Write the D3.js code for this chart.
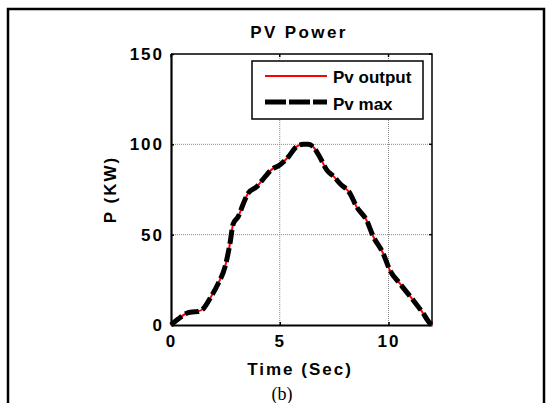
<!DOCTYPE html>
<html>
<head>
<meta charset="utf-8">
<script src="https://cdn.jsdelivr.net/npm/d3@7"></script>
<style>
  body { margin: 0; background: #fff; }
  svg text { font-family: "Liberation Sans", Arial, sans-serif; font-weight: bold; fill: #000; }
</style>
</head>
<body>
<div id="app"></div>
<script>
// PV power curve
const time = [0, 0.3, 0.72, 1.0, 1.2, 1.5, 1.8, 2.17, 2.48, 2.71, 2.86, 3.09, 3.32, 3.55, 3.94, 4.32, 4.62, 5.0, 5.39, 5.77, 6.08, 6.3, 6.5, 6.84, 7.15, 7.5, 7.76, 8.22, 8.53, 8.99, 9.3, 9.75, 10.06, 10.52, 11.13, 11.59, 11.9, 12]
const power = [0, 3, 6.5, 7.2, 7.4, 9.2, 14.8, 23, 32, 45, 56, 60, 67, 73, 76.5, 82, 86, 88.5, 93, 98.7, 100, 100, 99, 93, 86, 82, 78.4, 73, 65.5, 58, 49, 39.7, 30.4, 23, 13.8, 6.5, 1, 0]
const xTicks = [0, 5, 10]
const yTicks = [0, 50, 100, 150]
const seriesNames = ['Pv output', 'Pv max']

const data = time.map((t, i) => ({t: t, p: power[i]}))

const W = 552, H = 403
const margin = {left: 171, right: 120, top: 54, bottom: 78}

const svg = d3.select('#app').append('svg')
    .attr('width', W)
    .attr('height', H)

// outer figure frame
svg.append('path')
    .attr('d', `M8,${H} L8,9 L544,9 L544,${H}`)
    .attr('fill', 'none')
    .attr('stroke', '#000')
    .attr('stroke-width', 2.5)

const x = d3.scaleLinear().domain([0, 12]).range([margin.left, W - margin.right])
const y = d3.scaleLinear().domain([0, 150]).range([H - margin.bottom, margin.top])

// grid
const grid = svg.append('g')
grid.selectAll('line.gx')
    .data(xTicks.filter(d => d > 0))
    .enter().append('line')
    .attr('x1', d => x(d)).attr('x2', d => x(d))
    .attr('y1', y(0)).attr('y2', y(150))
    .attr('stroke', '#888').attr('stroke-width', 1).attr('stroke-dasharray', '1,1')
grid.selectAll('line.gy')
    .data(yTicks.filter(d => d > 0 && d < 150))
    .enter().append('line')
    .attr('x1', x(0)).attr('x2', x(12))
    .attr('y1', d => y(d)).attr('y2', d => y(d))
    .attr('stroke', '#888').attr('stroke-width', 1).attr('stroke-dasharray', '1,1')

// box (top and right)
svg.append('path')
    .attr('d', `M${x(0)},${y(150)} L${x(12)},${y(150)} L${x(12)},${y(0)}`)
    .attr('fill', 'none').attr('stroke', '#000').attr('stroke-width', 1.5)

// inner ticks on top / right
svg.selectAll('line.tt')
    .data(xTicks)
    .enter().append('line')
    .attr('x1', d => x(d)).attr('x2', d => x(d))
    .attr('y1', y(150)).attr('y2', y(150) + 3)
    .attr('stroke', '#000').attr('stroke-width', 1.5)
svg.selectAll('line.tr')
    .data(yTicks)
    .enter().append('line')
    .attr('x1', x(12)).attr('x2', x(12) - 3)
    .attr('y1', d => y(d)).attr('y2', d => y(d))
    .attr('stroke', '#000').attr('stroke-width', 1.5)

// axes
const xAxis = svg.append('g')
    .attr('transform', `translate(0,${y(0)})`)
    .call(d3.axisBottom(x).tickValues(xTicks).tickSizeInner(-3).tickSizeOuter(0).tickPadding(10))
const yAxis = svg.append('g')
    .attr('transform', `translate(${x(0)},0)`)
    .call(d3.axisLeft(y).tickValues(yTicks).tickSizeInner(-3).tickSizeOuter(0).tickPadding(7))
;[xAxis, yAxis].forEach(a => {
    a.select('.domain').attr('stroke', '#000').attr('stroke-width', 2.2)
    a.selectAll('.tick line').attr('stroke', '#000').attr('stroke-width', 1.5)
    a.selectAll('.tick text')
        .style('font-size', '17px')
        .style('font-family', '"Liberation Sans", Arial, sans-serif')
        .style('font-weight', 'bold')
        .style('letter-spacing', '2px')
        .attr('fill', '#000')
})
xAxis.selectAll('.tick text').attr('dy', '0.71em')

// lines
const line = d3.line()
    .x(d => x(d.t))
    .y(d => y(d.p))
    .curve(d3.curveMonotoneX)

svg.append('path')
    .datum(data)
    .attr('d', line)
    .attr('fill', 'none')
    .attr('stroke', '#ff0000')
    .attr('stroke-width', 2)
svg.append('path')
    .datum(data)
    .attr('d', line)
    .attr('fill', 'none')
    .attr('stroke', '#000')
    .attr('stroke-width', 5)
    .attr('stroke-dasharray', '14,4')

// legend
const legend = svg.append('g').attr('transform', 'translate(252,61)')
legend.append('rect')
    .attr('width', 171).attr('height', 58)
    .attr('fill', '#fff').attr('stroke', '#000').attr('stroke-width', 1.5)
legend.append('line')
    .attr('x1', 13).attr('x2', 75).attr('y1', 15).attr('y2', 15)
    .attr('stroke', '#ff0000').attr('stroke-width', 2)
legend.append('line')
    .attr('x1', 13).attr('x2', 75).attr('y1', 41).attr('y2', 41)
    .attr('stroke', '#000').attr('stroke-width', 5).attr('stroke-dasharray', '21,3')
legend.selectAll('text.lg')
    .data(seriesNames)
    .enter().append('text')
    .attr('x', 81)
    .attr('y', (d, i) => 22 + i * 27)
    .style('font-size', '17px')
    .text(d => d)

// labels
svg.append('text')
    .attr('x', 299).attr('y', 38)
    .attr('text-anchor', 'middle')
    .style('font-size', '17px')
    .style('letter-spacing', '2.4px')
    .text('PV Power')
svg.append('text')
    .attr('x', 300).attr('y', 375)
    .attr('text-anchor', 'middle')
    .style('font-size', '17px')
    .style('letter-spacing', '2px')
    .text('Time (Sec)')
svg.append('text')
    .attr('transform', `translate(116,${(y(0) + y(150)) / 2}) rotate(-90)`)
    .attr('text-anchor', 'middle')
    .style('font-size', '17px')
    .style('letter-spacing', '2px')
    .text('P (KW)')
svg.append('text')
    .attr('x', 282).attr('y', 400)
    .attr('text-anchor', 'middle')
    .style('font-family', '"Liberation Serif", "Times New Roman", serif')
    .style('font-weight', 'normal')
    .style('font-size', '18px')
    .text('(b)')
</script>
</body>
</html>
